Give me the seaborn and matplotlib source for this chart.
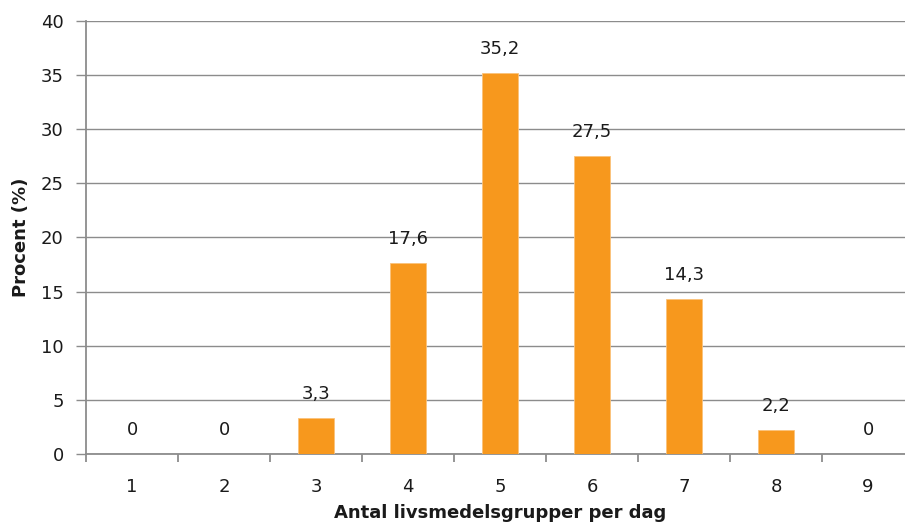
import matplotlib
matplotlib.use("Agg")
import matplotlib.pyplot as plt
import seaborn as sns
import pandas as pd
from matplotlib.ticker import FixedLocator

categories = ["1", "2", "3", "4", "5", "6", "7", "8", "9"]
values = [0, 0, 3.3, 17.6, 35.2, 27.5, 14.3, 2.2, 0]
y_ticks = [0, 5, 10, 15, 20, 25, 30, 35, 40]

bar_color = "#F7981D"
grid_color = "#8C8C8C"
text_color = "#1A1A1A"

sns.set_theme(style="white")
plt.rcParams["font.family"] = ["DejaVu Sans"]

df = pd.DataFrame({"grupper": categories, "procent": values})

fig = plt.figure(figsize=(9.05, 5.28), dpi=100)
ax = fig.add_axes([86 / 905, 74 / 528, 828 / 905, 433 / 528])

sns.barplot(data=df, x="grupper", y="procent", color=bar_color, width=0.39,
            saturation=1, edgecolor="#FBC27A", linewidth=0.6, ax=ax, zorder=3)

ax.set_xlim(-0.5, len(categories) - 0.5)
ax.set_ylim(0, 40)
ax.set_yticks(y_ticks)
ax.yaxis.grid(True, color=grid_color, linewidth=1.0, zorder=0)
ax.set_axisbelow(True)

for side in ["top", "right"]:
    ax.spines[side].set_visible(False)
for side in ["left", "bottom"]:
    ax.spines[side].set_color(grid_color)
    ax.spines[side].set_linewidth(1.3)

ax.tick_params(axis="y", which="major", length=7, width=1.0, color=grid_color,
               labelsize=13, labelcolor=text_color, pad=9, left=True)
ax.tick_params(axis="x", which="major", length=0, labelsize=13,
               labelcolor=text_color, pad=17)
ax.xaxis.set_minor_locator(FixedLocator([i - 0.5 for i in range(len(categories) + 1)]))
ax.tick_params(axis="x", which="minor", length=6, width=1.3, color=grid_color,
               bottom=True)

for i, v in enumerate(values):
    label = f"{v:g}".replace(".", ",")
    ax.annotate(label, (i, v), xytext=(0, 11), textcoords="offset points",
                ha="center", va="bottom", fontsize=13, color=text_color)

ax.set_xlabel("Antal livsmedelsgrupper per dag", fontsize=13, fontweight="bold",
              color=text_color, labelpad=6)
ax.set_ylabel("Procent (%)", fontsize=13, fontweight="bold", color=text_color,
              labelpad=8)

fig.savefig("out.png", dpi=100)
